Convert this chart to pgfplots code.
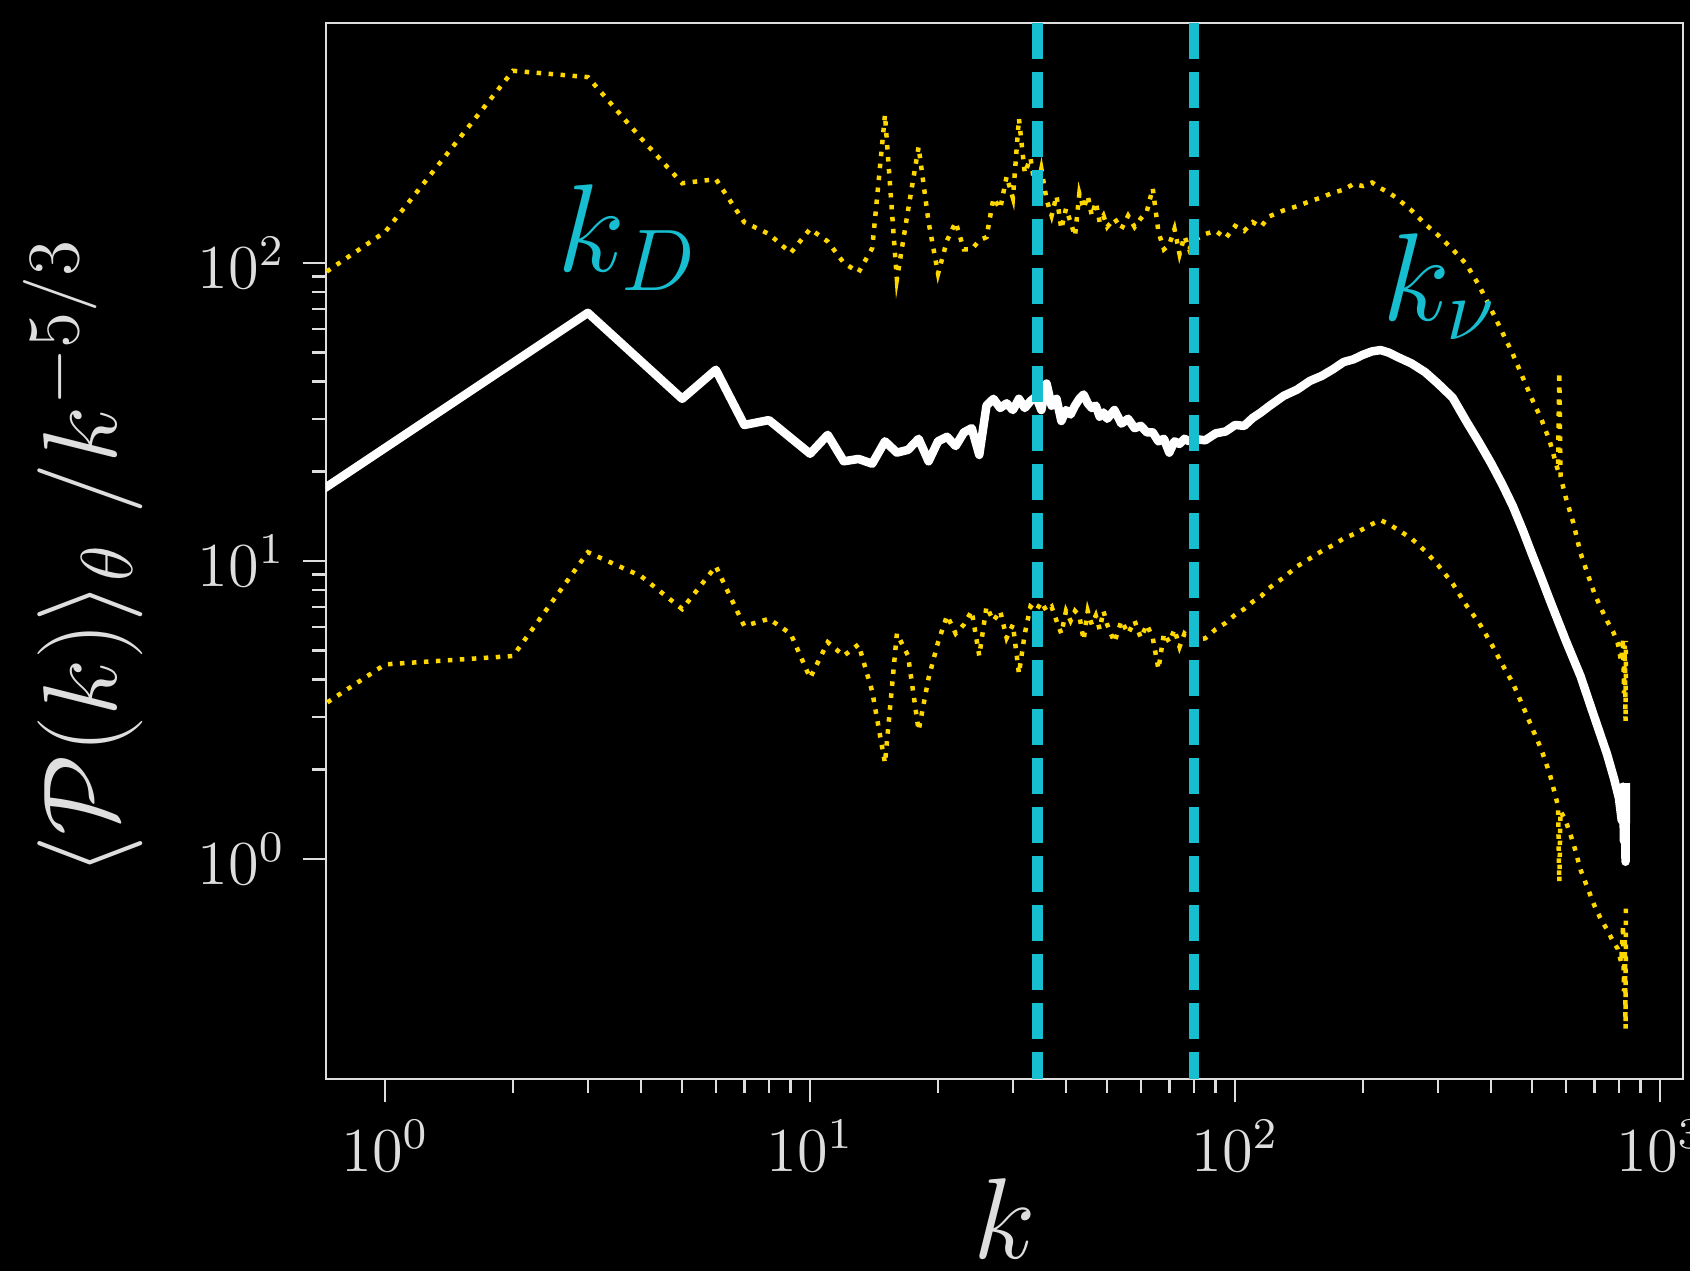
\RequirePackage{fix-cm}
\documentclass[border=0pt]{standalone}
\usepackage{pgfplots}
\usepackage{pgfplotstable}
\pgfplotsset{compat=1.18}
\usetikzlibrary{backgrounds}

\definecolor{spine}{gray}{0.87}
\definecolor{kcyan}{RGB}{23,190,207}
\definecolor{kgold}{RGB}{255,215,0}

% angle-averaged spectrum (mean), compensated by k^{-5/3}
\pgfplotstableread{
k v
0.5 12.4
3 68.0
5 35.0
6 43.8
7 28.6
8 29.7
10 22.9
11 26.5
12 21.6
13 22.0
14 21.2
15 25.2
16 23.1
17 23.6
18 25.7
19 21.6
20 25.2
21 26.1
22 24.3
23 27.0
24 27.9
25 22.7
26 33.2
27 35.0
28 32.6
29 33.8
30 32.1
31 35.0
32 32.6
33 34.4
34 35.6
35 32.1
36 39.4
37 33.2
38 35.0
39 29.5
40 32.1
41 31.0
42 33.2
43 35.0
44 36.2
45 33.8
46 32.6
47 33.2
48 30.5
49 31.5
50 30.0
52 32.1
54 28.9
56 30.0
58 27.9
60 28.4
62 27.0
64 27.0
66 25.2
68 25.7
70 23.1
72 25.2
74 24.7
76 25.7
78 25.2
80 25.7
85 25.4
90 26.8
95 27.2
100 28.6
105 28.4
110 30.2
115 31.5
120 33.0
130 35.8
140 37.6
150 40.2
160 41.8
170 44.0
180 46.5
190 47.5
200 49.2
210 50.5
220 51.0
230 50.0
240 48.5
260 46.0
280 43.0
300 39.4
325 35.3
350 29.4
375 25.0
400 21.3
425 18.1
450 15.3
475 12.7
500 10.5
525 8.8
550 7.4
575 6.3
600 5.4
650 4.1
700 3.0
750 2.25
780 1.85
800 1.6
812 1.35
818 1.75
822 1.15
826 1.65
829 0.98
831 1.8
}\meanspec

% upper envelope
\pgfplotstableread{
k v
0.5 65
1 127
2 441
3 420
4 262
5 185
6 191
7 137
8 125
9 108
10 130
11 118
12 100
13 93
14 112
15 314
16 88
17 150
18 245
19 137
20 92
21 119
22 137
23 111
24 111
25 119
26 122
27 165
28 152
29 195
30 165
31 305
32 200
33 225
34 170
35 207
36 163
37 144
38 168
39 130
40 152
41 137
42 123
43 171
44 152
45 168
46 144
47 160
48 137
49 144
50 132
52 141
54 130
56 144
58 132
60 141
62 149
64 178
66 127
68 111
70 115
72 130
74 107
76 123
78 111
80 119
85 125
90 128
95 121
100 133
105 128
110 137
115 132
120 143
130 150
140 155
150 161
160 166
170 172
180 176
190 184
200 181
210 186
220 178
230 172
240 165
260 150
280 135
300 124
325 111
350 99
375 84
400 70
425 58.6
450 49.5
475 41.3
500 34.8
525 30.0
550 25.2
575 20.1
579 43
583 19.2
600 16.3
625 13.4
650 10.6
675 9.06
700 7.8
725 6.97
750 6.3
775 5.8
795 5.3
810 4.6
818 5.5
822 3.6
826 5.2
829 2.9
831 5.4
}\upperspec

% lower envelope
\pgfplotstableread{
k v
0.5 2.35
1 4.5
2 4.8
3 10.7
4 8.9
5 6.9
6 9.6
7 6.05
8 6.4
9 5.7
10 4.05
11 5.34
12 4.81
13 5.25
14 3.65
15 2.10
16 5.71
17 4.81
18 2.70
19 4.05
20 5.34
21 6.56
22 5.71
23 6.12
24 6.8
25 4.81
26 7.03
27 6.3
28 6.8
29 5.52
30 6.12
31 4.19
32 5.71
33 7.03
34 6.8
35 7.28
36 6.8
37 7.03
38 6.3
39 5.71
40 6.8
41 6.3
42 6.8
43 6.56
44 5.43
45 6.8
46 6.12
47 6.56
48 5.9
49 6.8
50 6.12
52 5.34
54 6.3
56 5.71
58 6.3
60 5.52
62 6.12
64 5.52
66 4.34
68 5.71
70 5.34
72 5.9
74 5.15
76 5.71
78 5.52
80 5.45
85 5.5
90 5.9
95 6.2
100 6.6
105 6.9
110 7.3
115 7.6
120 8.1
130 8.8
140 9.6
150 10.2
160 10.8
170 11.3
180 11.9
190 12.3
200 12.8
210 13.3
220 13.7
230 13.3
240 12.8
260 11.9
280 10.8
300 9.7
325 8.4
350 7.1
375 6.2
400 5.3
425 4.5
450 3.9
475 3.27
500 2.75
525 2.34
550 1.93
575 1.51
579 0.84
583 1.45
600 1.34
625 1.13
650 0.92
675 0.8
700 0.7
725 0.63
750 0.58
775 0.53
795 0.5
810 0.45
818 0.6
822 0.36
826 0.55
829 0.27
831 0.7
}\lowerspec

\begin{document}
\begin{tikzpicture}
\begin{axis}[
    scale only axis,
    width=271.4pt, height=211.2pt,
    xmode=log, ymode=log,
    xmin=0.726, xmax=1132,
    ymin=0.183, ymax=638,
    xtick={1,10,100,1000},
    ytick={1,10,100},
    axis line style={spine, line width=0.55pt},
    tick style={spine, line width=0.5pt},
    major tick length=4.7pt,
    minor tick length=2.8pt,
    tick align=outside,
    tick pos=left,
    ticklabel style={font=\fontsize{12.5}{15}\selectfont, text=spine},
    xlabel={$k$},
    ylabel={$\langle \mathcal{P}(k) \rangle_{\theta}\; /k^{-5/3}$},
    xlabel style={at={(axis description cs:0.5,0)}, anchor=base, yshift=-36pt,
        font=\fontsize{23}{27}\selectfont, text=spine},
    ylabel style={at={(axis description cs:-0.179,0.494)}, anchor=center,
        font=\fontsize{21}{25}\selectfont, text=spine},
]
\coordinate (bl) at (rel axis cs:0,0);
\coordinate (tr) at (rel axis cs:1,1);

\addplot[kgold, line width=0.9pt, dash pattern=on 0.9pt off 1.5pt]
    table[x=k, y=v] {\upperspec};
\addplot[kgold, line width=0.9pt, dash pattern=on 0.9pt off 1.5pt]
    table[x=k, y=v] {\lowerspec};
\addplot[white, line width=1.7pt, line join=round]
    table[x=k, y=v] {\meanspec};

\addplot[kcyan, line width=2.1pt, dash pattern=on 7.2pt off 2.6pt]
    coordinates {(34.3,638) (34.3,0.183)};
\addplot[kcyan, line width=2.1pt, dash pattern=on 7.2pt off 2.6pt]
    coordinates {(80,638) (80,0.183)};

\node[anchor=base west, inner sep=0pt, text=kcyan, font=\fontsize{25}{30}\selectfont]
    at (axis cs:2.53,93.3) {$k_D$};
\node[anchor=base west, inner sep=0pt, text=kcyan, font=\fontsize{25}{30}\selectfont]
    at (axis cs:221,63.9) {$k_\nu$};
\end{axis}
\pgfresetboundingbox
\begin{scope}[on background layer]
\fill[black] ([shift={(-65.2pt,-38.4pt)}]bl) rectangle ([shift={(1.4pt,4.6pt)}]tr);
\end{scope}
\end{tikzpicture}
\end{document}
